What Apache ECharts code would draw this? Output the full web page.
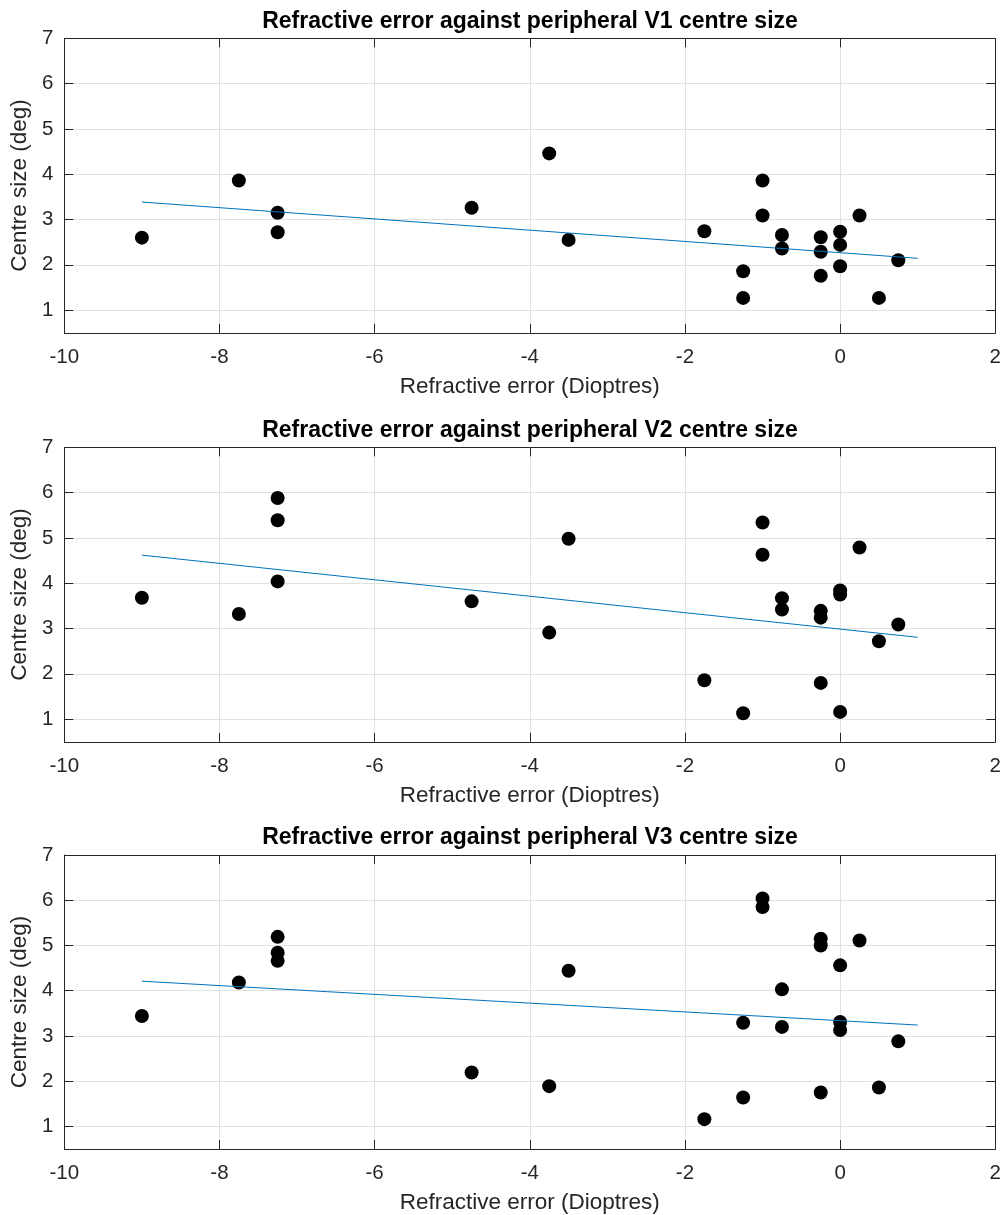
<!DOCTYPE html>
<html>
<head>
<meta charset="utf-8">
<title>Refractive error against centre size</title>
<script src="https://cdn.jsdelivr.net/npm/echarts@6/dist/echarts.min.js"></script>
<style>
  html, body { margin: 0; padding: 0; background: #fff; }
  #chart { width: 1004px; height: 1215px; }
</style>
</head>
<body>
<div id="chart"></div>
<script>
// 数据
const xTicks = [-10, -8, -6, -4, -2, 0, 2]
const yTicks = [1, 2, 3, 4, 5, 6, 7]

const v1X = [-9, -7.75, -7.25, -7.25, -4.75, -3.75, -3.5, -1.75, -1.25, -1.25, -1, -1, -0.75, -0.75, -0.25, -0.25, -0.25, 0, 0, 0, 0.25, 0.5, 0.75]
const v1Y = [2.60, 3.86, 3.15, 2.72, 3.26, 4.46, 2.55, 2.74, 1.86, 1.27, 3.86, 3.09, 2.66, 2.36, 2.61, 2.29, 1.76, 2.73, 2.44, 1.97, 3.09, 1.27, 2.10]

const v2X = [-9, -7.75, -7.25, -7.25, -7.25, -4.75, -3.75, -3.5, -1.75, -1.25, -1, -1, -0.75, -0.75, -0.25, -0.25, -0.25, 0, 0, 0, 0.25, 0.5, 0.75]
const v2Y = [3.68, 3.32, 5.88, 5.39, 4.04, 3.60, 2.91, 4.98, 1.86, 1.13, 5.34, 4.63, 3.67, 3.42, 3.39, 3.24, 1.80, 3.84, 3.75, 1.16, 4.79, 2.72, 3.09]

const v3X = [-9, -7.75, -7.25, -7.25, -7.25, -4.75, -3.75, -3.5, -1.75, -1.25, -1.25, -1, -1, -0.75, -0.75, -0.25, -0.25, -0.25, 0, 0, 0, 0.25, 0.5, 0.75]
const v3Y = [3.44, 4.18, 5.19, 4.84, 4.66, 2.19, 1.89, 4.44, 1.16, 3.29, 1.64, 6.04, 5.85, 4.03, 3.20, 5.15, 5.00, 1.75, 4.56, 3.31, 3.13, 5.11, 1.86, 2.88]

// 拟合线端点
const fitX = [-9, 1]
const fit1Y = [3.386, 2.144]
const fit2Y = [4.62, 2.806]
const fit3Y = [4.21, 3.24]

const titles = [
  'Refractive error against peripheral V1 centre size',
  'Refractive error against peripheral V2 centre size',
  'Refractive error against peripheral V3 centre size'
]
const panels = [
  { x: v1X, y: v1Y, fit: fit1Y },
  { x: v2X, y: v2Y, fit: fit2Y },
  { x: v3X, y: v3Y, fit: fit3Y }
]

const gridTops = [38.3, 447.3, 855]
const gridHeight = 294.5
const font = "'Liberation Sans', Arial, Helvetica, sans-serif"
const axisColor = '#262626'
const gridColor = '#e1e1e1'

const zip = (xs, ys) => xs.map((v, i) => [v, ys[i]])

const chart = echarts.init(document.getElementById('chart'), null, { renderer: 'canvas' })

const option = {
  animation: false,
  backgroundColor: '#fff',
  title: [],
  grid: [],
  xAxis: [],
  yAxis: [],
  series: []
}

panels.forEach((p, i) => {
  option.title.push({
    text: titles[i],
    left: 530,
    top: gridTops[i] - 17,
    padding: 0,
    textAlign: 'center',
    textVerticalAlign: 'middle',
    textStyle: { fontFamily: font, fontSize: 23, fontWeight: 'bold', color: '#000' }
  })

  option.grid.push({
    left: 63.3,
    top: gridTops[i],
    width: 933.4,
    height: gridHeight
  })

  const xBase = {
    gridIndex: i,
    type: 'value',
    min: -10,
    max: 2,
    interval: 2,
    axisLine: { show: true, onZero: false, lineStyle: { color: axisColor, width: 1 } },
    axisTick: { show: true, inside: true, length: 9, lineStyle: { color: axisColor } }
  }
  option.xAxis.push({
    ...xBase,
    position: 'bottom',
    name: 'Refractive error (Dioptres)',
    nameLocation: 'middle',
    nameGap: 42,
    nameTextStyle: { fontFamily: font, fontSize: 22.5, color: axisColor },
    axisLabel: { show: true, margin: 14, fontFamily: font, fontSize: 20.5, color: axisColor },
    splitLine: { show: true, lineStyle: { color: gridColor, width: 1 } }
  })
  option.xAxis.push({
    ...xBase,
    position: 'top',
    axisLabel: { show: false },
    splitLine: { show: false }
  })

  // y 轴从 0.5 开始，刻度放在整数上
  const yBase = {
    gridIndex: i,
    type: 'value',
    min: 0.5,
    max: 7,
    axisLine: { show: true, onZero: false, lineStyle: { color: axisColor, width: 1 } },
    axisTick: { show: true, inside: true, length: 9, customValues: yTicks, lineStyle: { color: axisColor } }
  }
  option.yAxis.push({
    ...yBase,
    position: 'left',
    name: 'Centre size (deg)',
    nameLocation: 'middle',
    nameGap: 30,
    nameTextStyle: { fontFamily: font, fontSize: 22.5, color: axisColor },
    axisLabel: { show: true, margin: 11, customValues: yTicks, fontFamily: font, fontSize: 20.5, color: axisColor },
    splitLine: { show: true, lineStyle: { color: gridColor, width: 1 } }
  })
  option.yAxis.push({
    ...yBase,
    position: 'right',
    axisLabel: { show: false },
    splitLine: { show: false }
  })

  option.series.push({
    type: 'line',
    xAxisIndex: i * 2,
    yAxisIndex: i * 2,
    data: zip(fitX, p.fit),
    showSymbol: false,
    symbol: 'none',
    lineStyle: { color: '#0072BD', width: 1 },
    z: 3
  })
  option.series.push({
    type: 'scatter',
    xAxisIndex: i * 2,
    yAxisIndex: i * 2,
    data: zip(p.x, p.y),
    symbol: 'circle',
    symbolSize: 14,
    itemStyle: { color: '#000', opacity: 1 },
    z: 2
  })
})

chart.setOption(option)
</script>
</body>
</html>
